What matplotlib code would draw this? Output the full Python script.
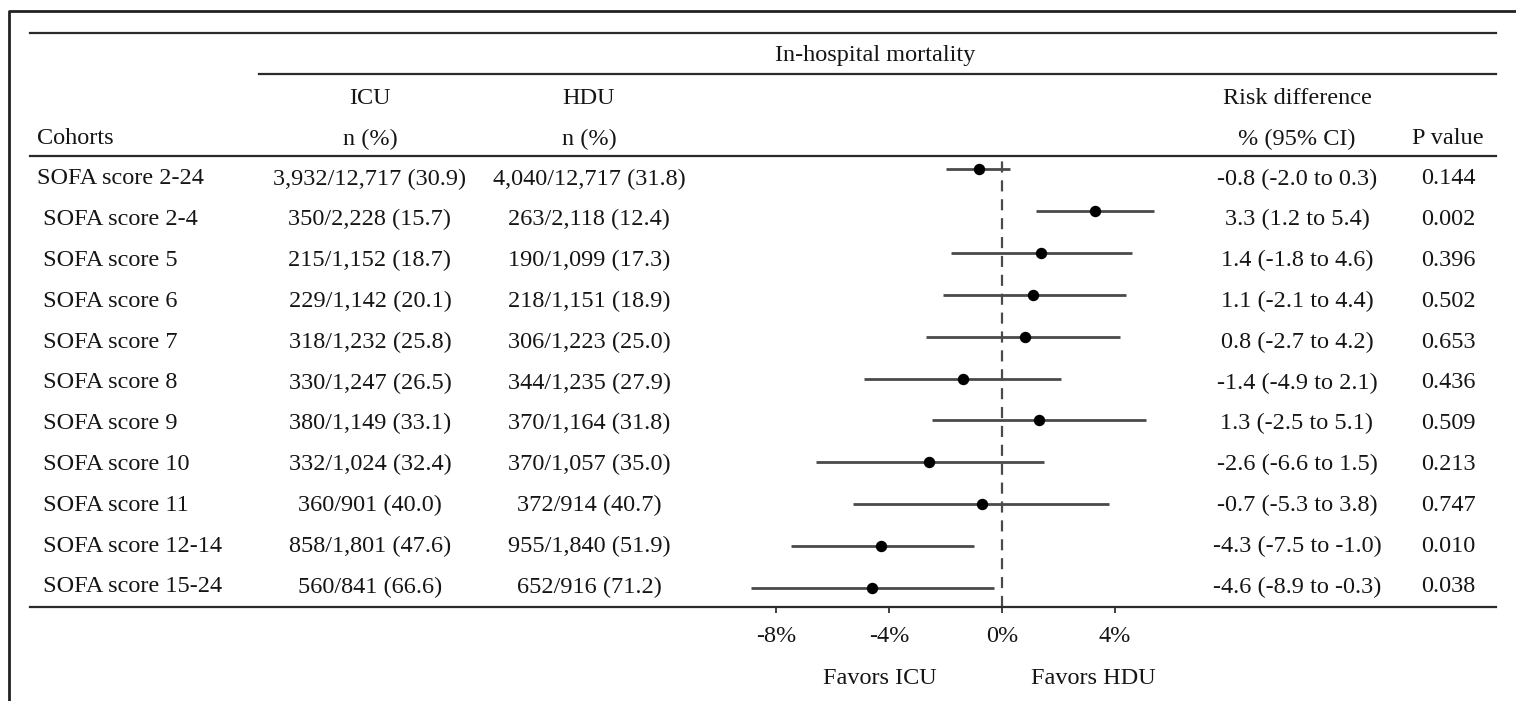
import numpy as np
import matplotlib
matplotlib.use("Agg")
import matplotlib.pyplot as plt
from matplotlib.lines import Line2D

cohorts = ["SOFA score 2-24", " SOFA score 2-4", " SOFA score 5", " SOFA score 6",
           " SOFA score 7", " SOFA score 8", " SOFA score 9", " SOFA score 10",
           " SOFA score 11", " SOFA score 12-14", " SOFA score 15-24"]
icu = ["3,932/12,717 (30.9)", "350/2,228 (15.7)", "215/1,152 (18.7)", "229/1,142 (20.1)",
       "318/1,232 (25.8)", "330/1,247 (26.5)", "380/1,149 (33.1)", "332/1,024 (32.4)",
       "360/901 (40.0)", "858/1,801 (47.6)", "560/841 (66.6)"]
hdu = ["4,040/12,717 (31.8)", "263/2,118 (12.4)", "190/1,099 (17.3)", "218/1,151 (18.9)",
       "306/1,223 (25.0)", "344/1,235 (27.9)", "370/1,164 (31.8)", "370/1,057 (35.0)",
       "372/914 (40.7)", "955/1,840 (51.9)", "652/916 (71.2)"]
rd = [-0.8, 3.3, 1.4, 1.1, 0.8, -1.4, 1.3, -2.6, -0.7, -4.3, -4.6]
lo = [-2.0, 1.2, -1.8, -2.1, -2.7, -4.9, -2.5, -6.6, -5.3, -7.5, -8.9]
hi = [0.3, 5.4, 4.6, 4.4, 4.2, 2.1, 5.1, 1.5, 3.8, -1.0, -0.3]
pvals = ["0.144", "0.002", "0.396", "0.502", "0.653", "0.436", "0.509",
         "0.213", "0.747", "0.010", "0.038"]
xticks = [-8, -4, 0, 4]

plt.rcParams["font.family"] = ["Liberation Serif", "DejaVu Serif"]
fs = 17.5
tc = "#151515"

W, H = 1516, 701
fig = plt.figure(figsize=(W / 100, H / 100), dpi=100)


def fx(x):
    return x / W


def fy(y):
    return 1 - y / H


def hline(x0, x1, y, lw=1.6, color="#2a2a2a"):
    fig.add_artist(Line2D([fx(x0), fx(x1)], [fy(y), fy(y)], lw=lw, color=color,
                          transform=fig.transFigure))


def txt(x, y, s, ha="center"):
    fig.text(fx(x), fy(y), s, ha=ha, va="center", fontsize=fs, color=tc)


# outer frame (left and top)
fig.add_artist(Line2D([fx(9), fx(9), fx(W)], [fy(H), fy(11), fy(11)], lw=2,
                      color="#222222", transform=fig.transFigure))

# table rules
hline(30, 1496, 33)
hline(259, 1496, 74)
hline(30, 1496, 156)
hline(30, 1496, 607)

# header
txt(875, 56, "In-hospital mortality")
txt(370, 99, "ICU")
txt(589, 99, "HDU")
txt(1297, 99, "Risk difference")
txt(37, 139, "Cohorts", ha="left")
txt(370, 139, "n (%)")
txt(589, 139, "n (%)")
txt(1297, 139, "% (95% CI)")
txt(1448, 139, "P value")

# table body
row0, step = 179, 40.8
for i in range(len(cohorts)):
    y = row0 + i * step
    txt(37, y, cohorts[i], ha="left")
    txt(370, y, icu[i])
    txt(589, y, hdu[i])
    txt(1297, y, f"{rd[i]:.1f} ({lo[i]:.1f} to {hi[i]:.1f})")
    txt(1448, y, pvals[i])

# forest plot axes: 0 at x=1002 px, 28.2 px per percent
x0px, pxper = 1002, 28.2
xmin, xmax = -9.5, 6.5
top_px, bot_px = 156, 607
r_top, r_step = 169, 41.9
ymin = -(r_top - top_px) / r_step
ymax = (bot_px - r_top) / r_step
ax = fig.add_axes([fx(x0px + xmin * pxper), fy(bot_px),
                   (xmax - xmin) * pxper / W, (bot_px - top_px) / H])
ax.set_xlim(xmin, xmax)
ax.set_ylim(ymax, ymin)
ax.patch.set_visible(False)
for s in ax.spines.values():
    s.set_visible(False)

ypos = np.arange(len(rd))
ax.hlines(ypos, lo, hi, color="#4a4a4a", lw=2)
ax.plot(rd, ypos, "o", color="black", ms=7.2)
ax.axvline(0, color="#4a4a4a", lw=1.6, ls=(0, (5, 3.5)))

ax.set_yticks([])
ax.set_xticks(xticks)
ax.set_xticklabels([f"{t}%" for t in xticks], fontsize=fs, color=tc)
ax.tick_params(axis="x", length=4, width=1.3, color="#333333", pad=10)

txt(880, 678, "Favors ICU")
txt(1093, 678, "Favors HDU")

fig.savefig("out.png", dpi=100)
